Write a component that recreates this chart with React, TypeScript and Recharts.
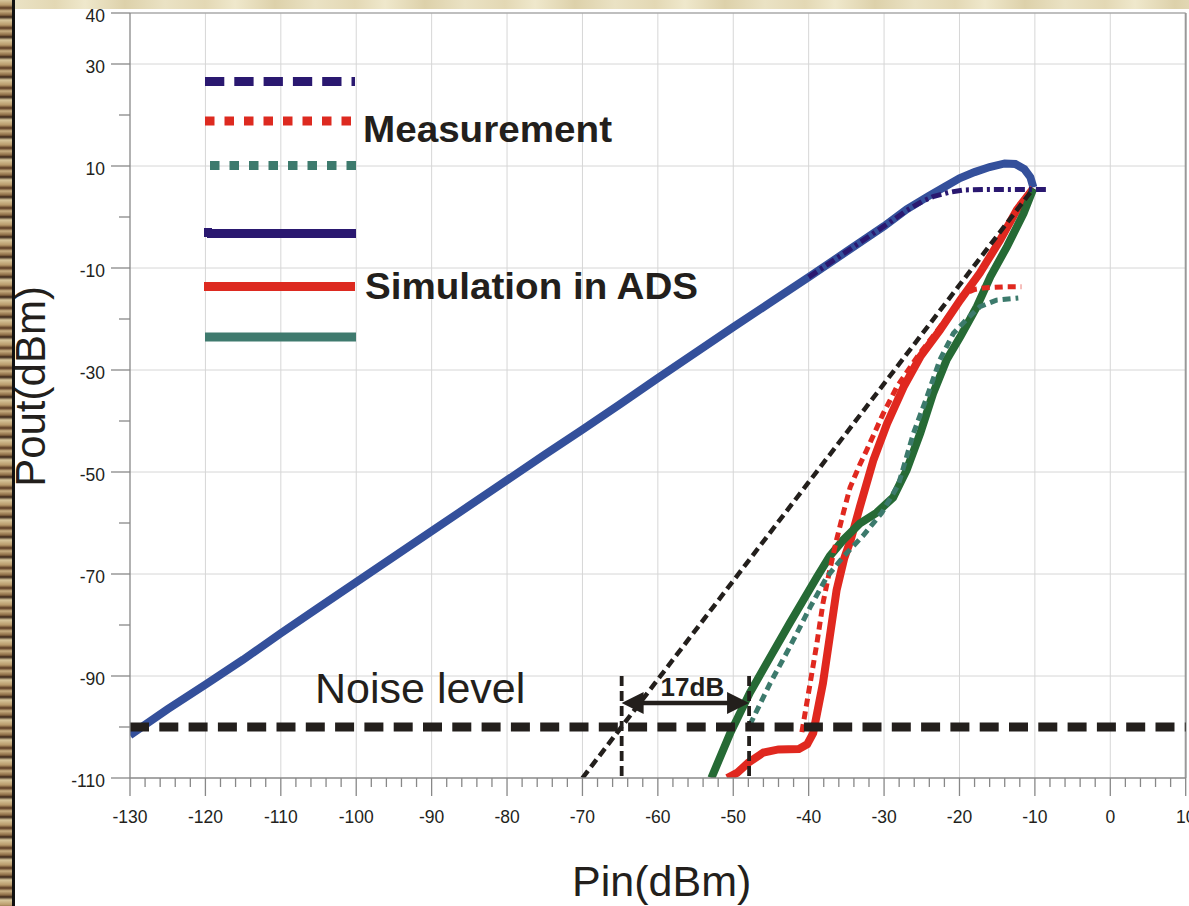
import { LineChart, Line, XAxis, YAxis, CartesianGrid, ReferenceLine } from "recharts";

// Pin (dBm) -> Pout (dBm)
const fundSim: [number, number][] = [
  [-130, -101.6], [-125, -96.5], [-120, -91.7], [-115, -86.8], [-110, -81.6], [-105, -76.6],
  [-100, -71.6], [-95, -66.6], [-90, -61.6], [-85, -56.6], [-80, -51.6], [-75, -46.6],
  [-70, -41.7], [-65, -36.7], [-60, -31.6], [-55, -26.6], [-50, -21.6], [-45, -16.7],
  [-40, -11.8], [-35, -6.8], [-30, -1.8], [-27, 1.5], [-24, 4.2], [-22, 5.9], [-20, 7.6],
  [-18, 8.8], [-16, 9.8], [-14, 10.5], [-12.6, 10.4], [-11.4, 9.4], [-10.6, 7.8], [-10.2, 5.8],
]
const fundMeas: [number, number][] = [
  [-40, -11.8], [-35, -6.8], [-30, -1.8], [-29, -0.8], [-27, 1.3], [-25, 3.0], [-23.5, 4.0],
  [-21.5, 4.8], [-19.5, 5.3], [-16, 5.4], [-8.2, 5.4],
]
const redSim: [number, number][] = [
  [-50.8, -110], [-49.5, -109], [-48, -107], [-46, -105], [-44, -104.4], [-41.3, -104.3],
  [-40.2, -103.4], [-39.4, -101.2], [-38.1, -91.4], [-37.2, -82.3], [-36.3, -73.2],
  [-35.3, -67], [-34.4, -63.2], [-33.2, -56.8], [-31.4, -47.6], [-29.6, -40.5], [-27.4, -33.3],
  [-25.2, -27.4], [-22.6, -22.2], [-19.9, -16.3], [-17.3, -11], [-14.6, -4.5], [-12.4, 1.4],
  [-10.2, 5.6],
]
const redMeas: [number, number][] = [
  [-40.9, -101], [-39.8, -91.4], [-38.9, -83.5], [-38.1, -75.7], [-37.2, -69.2], [-36.3, -63.3],
  [-35.4, -58], [-34.5, -53], [-33.2, -48.5], [-32.3, -45.7], [-30.1, -38.5], [-28.3, -33.3],
  [-25.5, -27.2], [-22.8, -22], [-20.5, -17.5], [-19.5, -15.2], [-18, -14.2], [-16.8, -13.9],
  [-14.2, -13.7], [-11.8, -13.7],
]
const greenSim: [number, number][] = [
  [-52.9, -110], [-50.4, -101.2], [-47.8, -93.3], [-45.1, -86.3], [-42.5, -79.6], [-40.7, -75.1],
  [-38.9, -70.6], [-37.2, -66.5], [-35.4, -63.3], [-33.2, -60.1], [-31, -58], [-28.8, -55],
  [-27, -49.6], [-25.2, -42.4], [-23.5, -34.6], [-21.7, -28], [-19.9, -23.5], [-17.7, -17.6],
  [-15.9, -11.7], [-13.7, -5.8], [-11.5, 0.7], [-10.2, 5.6],
]
const tealMeas: [number, number][] = [
  [-47.8, -99.6], [-45.1, -91.4], [-42.5, -84.3], [-39.8, -76.5], [-37.6, -70.6], [-35.4, -66.6],
  [-32.8, -62.5], [-30.3, -58], [-28.1, -52.5], [-26.1, -42.4], [-24.3, -35.2], [-22.6, -28],
  [-20.8, -22.8], [-19, -20], [-17.3, -17.6], [-15.1, -16.3], [-12.2, -15.9],
]
const slopeLine: [number, number][] = [[-70, -110], [-10.2, 5.6]]

const noiseLevel = -100
const markerPins = [-64.8, -47.9]
const markerTop = -90
const arrowLevel = -95.3
const arrowText = "17dB"

const xTicks = Array.from({ length: 71 }, (_, i) => -130 + i * 2)
const xGrid = [-120, -110, -100, -90, -80, -70, -60, -50, -40, -30, -20, -10, 0]
const yTicks = Array.from({ length: 16 }, (_, i) => -110 + i * 10)
const yLabeled = [40, 30, 10, -10, -30, -50, -70, -90, -110]
const yGrid = [30, 10, -10, -30, -50, -70, -90]

const toRows = (pts: [number, number][]) => pts.map(([x, y]) => ({ x, y }))

const FONT = "Liberation Sans, Arial, sans-serif"
const INK = "#231f1c"

const XTick = (props: any) => {
  const { x, y, payload } = props
  const major = payload.value % 10 === 0
  return (
    <g>
      <line x1={x} x2={x} y1={y} y2={y + (major ? 18 : 9)} stroke="#888" strokeWidth={1.3} />
      {major && (
        <text x={x} y={y + 44.7} textAnchor="middle" fontSize={17.5} fill={INK} fontFamily={FONT}>
          {payload.value}
        </text>
      )}
    </g>
  )
}

const YTick = (props: any) => {
  const { x, y, payload } = props
  const major = yLabeled.includes(payload.value)
  return (
    <g>
      <line x1={x - (major ? 19 : 11)} x2={x} y1={y} y2={y} stroke="#888" strokeWidth={1.3} />
      {major && (
        <text x={x - 25} y={y + 8.8} textAnchor="end" fontSize={17.5} fill={INK} fontFamily={FONT}>
          {payload.value}
        </text>
      )}
    </g>
  )
}

const ArrowShape = (props: any) => {
  const { x1, y1, x2 } = props
  const h = 22
  const w = 11
  return (
    <g>
      <line x1={x1 + h - 2} x2={x2 - h + 2} y1={y1} y2={y1} stroke={INK} strokeWidth={4.5} />
      <polygon points={`${x1},${y1} ${x1 + h},${y1 - w} ${x1 + h},${y1 + w}`} fill={INK} />
      <polygon points={`${x2},${y1} ${x2 - h},${y1 - w} ${x2 - h},${y1 + w}`} fill={INK} />
      <text x={(x1 + x2) / 2 + 7} y={y1 - 7} textAnchor="middle" fontSize={26} fontWeight="bold" fill={INK} fontFamily={FONT}>
        {arrowText}
      </text>
    </g>
  )
}

export default function App() {
  return (
    <div style={{ position: "relative", width: 1189, height: 906, background: "#fff", overflow: "hidden" }}>
      <style>{"body{margin:0}"}</style>
      <div style={{ position: "absolute", left: 0, top: 0 }}>
        <LineChart width={1189} height={906} margin={{ top: 13, right: 3.3, bottom: 0, left: 0 }}>
          <CartesianGrid stroke="#d6d6d6" horizontalValues={yGrid} verticalValues={xGrid} />
          <XAxis
            type="number"
            dataKey="x"
            domain={[-130, 10]}
            ticks={xTicks}
            interval={0}
            allowDataOverflow
            height={128}
            tickSize={0}
            tickMargin={0}
            tickLine={false}
            axisLine={{ stroke: "#888", strokeWidth: 1.3 }}
            tick={<XTick />}
          />
          <YAxis
            type="number"
            dataKey="y"
            domain={[-110, 40]}
            ticks={yTicks}
            interval={0}
            allowDataOverflow
            width={130}
            tickSize={0}
            tickMargin={0}
            tickLine={false}
            axisLine={{ stroke: "#888", strokeWidth: 1.3 }}
            tick={<YTick />}
          />
          <ReferenceLine y={40} stroke="#aaa" strokeWidth={1.5} />
          <ReferenceLine x={10} stroke="#999" strokeWidth={2} />

          <Line data={toRows(fundSim)} dataKey="y" stroke="#34509b" strokeWidth={8} dot={false} isAnimationActive={false} />
          <Line data={toRows(redSim)} dataKey="y" stroke="#e0281f" strokeWidth={8} dot={false} isAnimationActive={false} />
          <Line data={toRows(greenSim)} dataKey="y" stroke="#266a35" strokeWidth={8} dot={false} isAnimationActive={false} />
          <Line data={toRows(fundMeas)} dataKey="y" stroke="#2a1870" strokeWidth={5} strokeDasharray="10 4 3 4" dot={false} isAnimationActive={false} />
          <Line data={toRows(redMeas)} dataKey="y" stroke="#e0281f" strokeWidth={5} strokeDasharray="8 5" dot={false} isAnimationActive={false} />
          <Line data={toRows(tealMeas)} dataKey="y" stroke="#3c7a6c" strokeWidth={5} strokeDasharray="8 5" dot={false} isAnimationActive={false} />
          <Line data={toRows(slopeLine)} dataKey="y" stroke={INK} strokeWidth={4.5} strokeDasharray="9 5" dot={false} isAnimationActive={false} />

          <ReferenceLine y={noiseLevel} stroke={INK} strokeWidth={9} strokeDasharray="19 10.3" />
          {markerPins.map((p) => (
            <ReferenceLine
              key={p}
              segment={[{ x: p, y: markerTop }, { x: p, y: -110 }]}
              stroke={INK}
              strokeWidth={3.8}
              strokeDasharray="10 5"
            />
          ))}
          <ReferenceLine
            segment={[{ x: markerPins[0], y: arrowLevel }, { x: markerPins[1], y: arrowLevel }]}
            shape={<ArrowShape />}
          />
        </LineChart>
      </div>

      <svg width={1189} height={906} style={{ position: "absolute", left: 0, top: 0, pointerEvents: "none" }} fontFamily={FONT}>
        {/* legend */}
        <line x1={205} x2={355} y1={81.5} y2={81.5} stroke="#2a1870" strokeWidth={9} strokeDasharray="19.3 10" />
        <line x1={205} x2={352} y1={121} y2={121} stroke="#dd2a20" strokeWidth={9} strokeDasharray="9.5 10" />
        <line x1={210} x2={356} y1={165.5} y2={165.5} stroke="#3d7a6d" strokeWidth={9} strokeDasharray="9.5 10" />
        <line x1={207} x2={356} y1={233.5} y2={233.5} stroke="#2a1870" strokeWidth={9} />
        <rect x={204} y={228} width={8} height={9} fill="#2a1870" />
        <line x1={204} x2={355} y1={286.5} y2={286.5} stroke="#dd2a20" strokeWidth={9} />
        <line x1={205} x2={356} y1={337} y2={337} stroke="#3f7a6e" strokeWidth={9} />
        <text x={363} y={142} fontSize={37} fontWeight="bold" fill={INK} textLength={249} lengthAdjust="spacingAndGlyphs">
          Measurement
        </text>
        <text x={365} y={299} fontSize={37} fontWeight="bold" fill={INK} textLength={333} lengthAdjust="spacingAndGlyphs">
          Simulation in ADS
        </text>

        <text x={315} y={702.7} fontSize={43} fill={INK}>Noise level</text>

        <text transform="translate(45,386.5) rotate(-90)" textAnchor="middle" fontSize={42} fill={INK}>
          Pout(dBm)
        </text>
        <text x={661.7} y={896} textAnchor="middle" fontSize={43} fill={INK}>
          Pin(dBm)
        </text>
      </svg>

      {/* textured page frame */}
      <div
        style={{
          position: "absolute", left: 0, top: 0, width: 12, height: 906,
          background: "repeating-linear-gradient(180deg, #d8c79c 0px, #b89a6a 5px, #5a3a22 8px, #c9b083 11px, #8a6a44 15px, #3a2518 17px, #d8c79c 20px)",
        }}
      />
      <div style={{ position: "absolute", left: 12, top: 0, width: 3, height: 906, background: "#111" }} />
      <div
        style={{
          position: "absolute", left: 15, top: 0, width: 1174, height: 9,
          background: "repeating-linear-gradient(90deg, #eae2c4 0px, #e3d8b4 40px, #efe8cc 70px, #ddd1aa 110px, #eae2c4 150px)",
        }}
      />
    </div>
  )
}
